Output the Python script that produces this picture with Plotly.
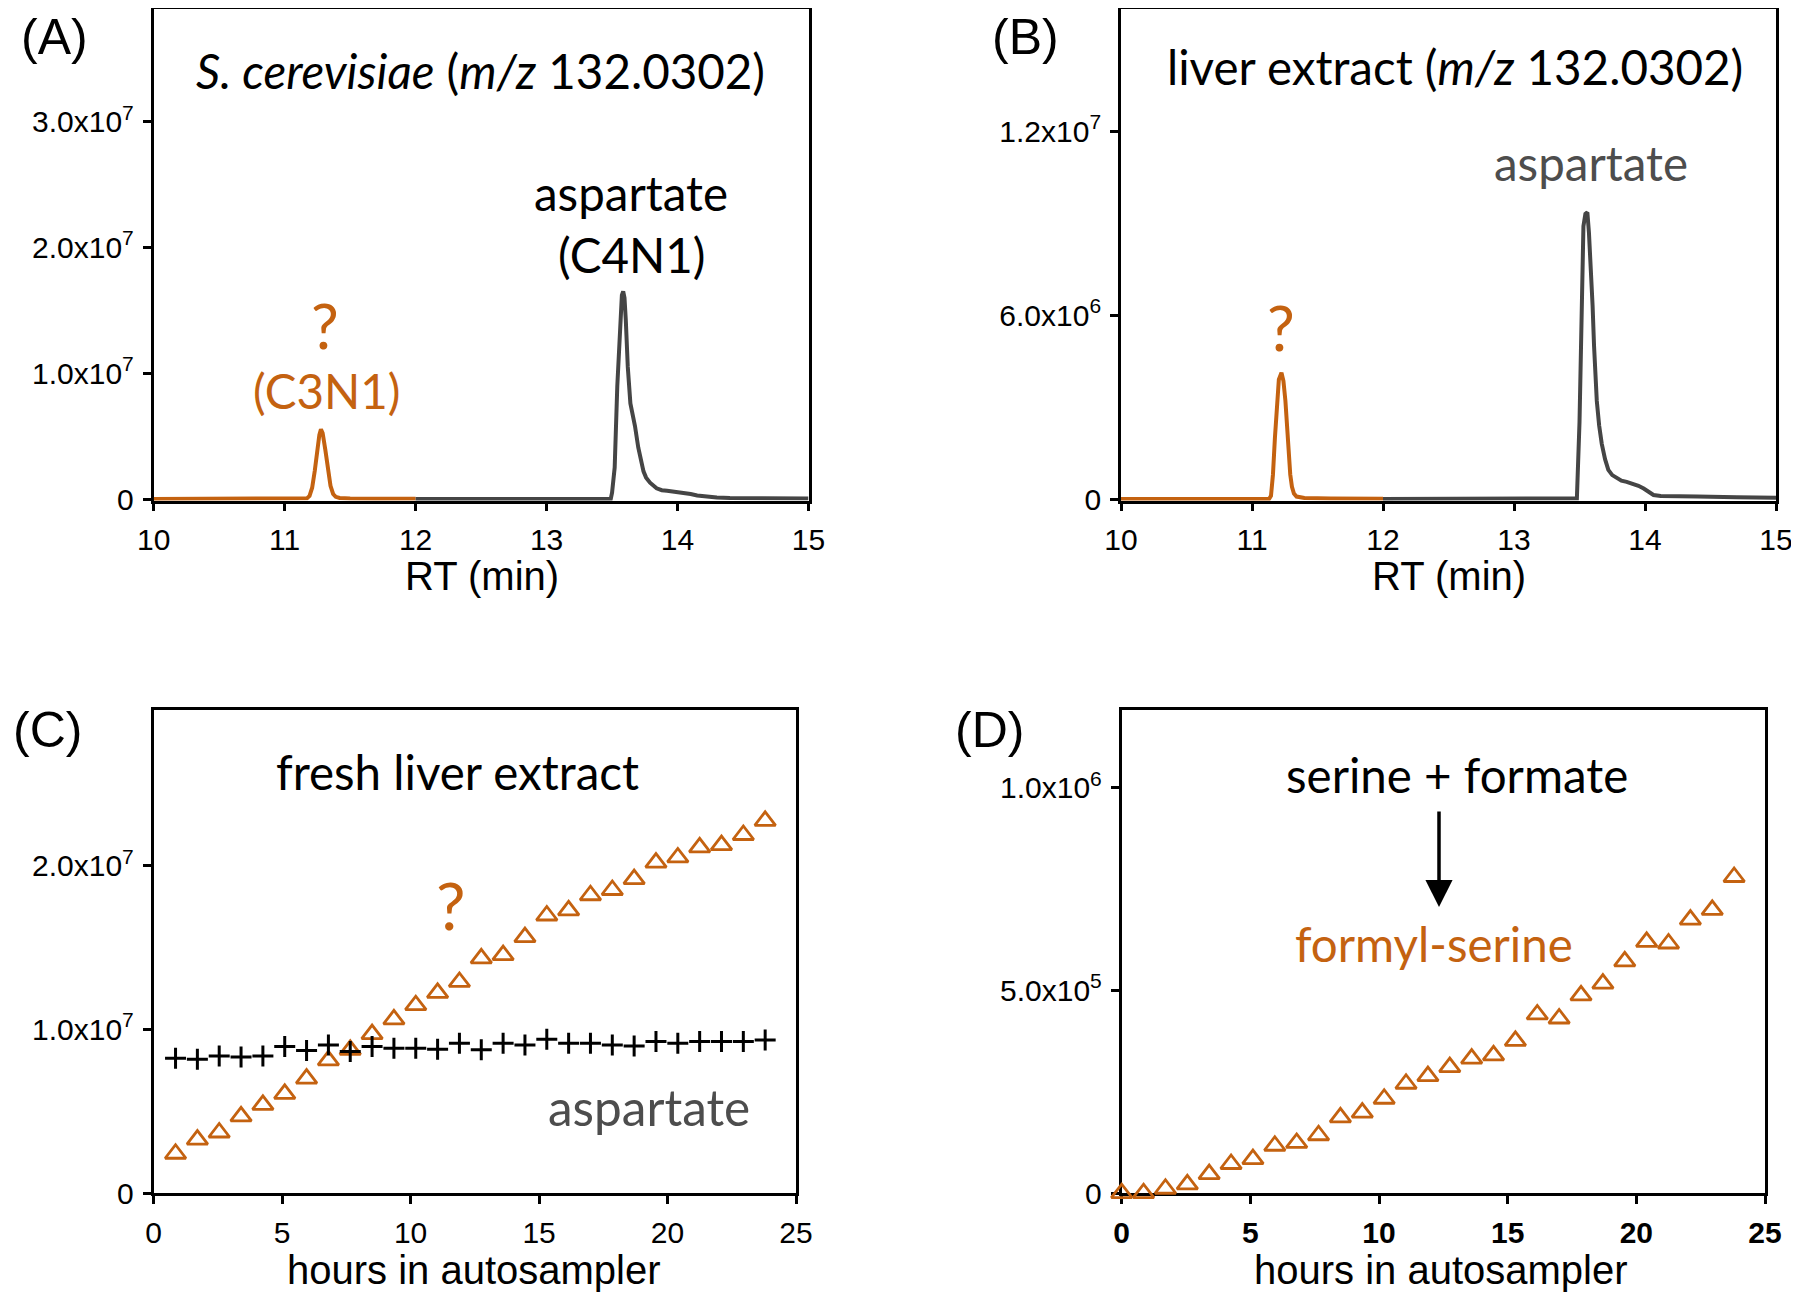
import plotly.graph_objects as go

# page is 1799x1297; the HTML body has an 8px margin, so the figure is sized to end at the page edge
PAGE_W, PAGE_H = 1799, 1297
OFF = 8
W, H = PAGE_W - OFF, PAGE_H - OFF

# ---------------- data ----------------
# Panel A: S. cerevisiae, m/z 132.0302
rt_a_unknown = [10.0, 11.0, 11.15, 11.17, 11.19, 11.21, 11.23, 11.25, 11.265, 11.277, 11.29,
                11.31, 11.33, 11.35, 11.37, 11.39, 11.42, 11.5, 11.7, 12.0]
int_a_unknown = [0, 0, 0, 0.05e6, 0.25e6, 0.9e6, 2.25e6, 4.1e6, 5.1e6, 5.55e6, 5.25e6,
                 3.95e6, 2.3e6, 1.05e6, 0.4e6, 0.17e6, 0.08e6, 0.04e6, 0.02e6, 0.01e6]
rt_a_asp = [12.0, 13.49, 13.50, 13.52, 13.54, 13.56, 13.575, 13.585, 13.595, 13.605, 13.62,
            13.64, 13.66, 13.675, 13.70, 13.72, 13.74, 13.76, 13.79, 13.84, 13.88, 13.92,
            13.96, 14.0, 14.05, 14.1, 14.15, 14.22, 14.3, 14.4, 14.6, 14.8, 15.0]
int_a_asp = [0, 0, 0.05e7, 0.25e7, 0.9e7, 1.42e7, 1.62e7, 1.65e7, 1.6e7, 1.42e7, 1.05e7,
             0.76e7, 0.66e7, 0.58e7, 0.41e7, 0.30e7, 0.22e7, 0.17e7, 0.13e7, 0.085e7, 0.07e7,
             0.065e7, 0.06e7, 0.058e7, 0.05e7, 0.04e7, 0.028e7, 0.018e7, 0.012e7, 0.008e7,
             0.005e7, 0.004e7, 0.003e7]

# Panel B: liver extract, m/z 132.0302
rt_b_unknown = [10.0, 11.0, 11.13, 11.145, 11.16, 11.175, 11.19, 11.205, 11.225, 11.24, 11.255,
                11.268, 11.28, 11.292, 11.305, 11.32, 11.34, 11.4, 11.6, 12.0]
int_b_unknown = [0, 0, 0, 0.1e6, 0.8e6, 2.0e6, 3.1e6, 3.9e6, 4.12e6, 3.85e6, 3.2e6,
                 2.3e6, 1.4e6, 0.8e6, 0.4e6, 0.18e6, 0.08e6, 0.03e6, 0.02e6, 0.01e6]
rt_b_asp = [12.0, 13.47, 13.48, 13.50, 13.51, 13.52, 13.53, 13.545, 13.56, 13.572, 13.586,
            13.60, 13.611, 13.622, 13.632, 13.65, 13.67, 13.695, 13.72, 13.75, 13.785, 13.82,
            13.86, 13.91, 13.95, 13.99, 14.03, 14.065, 14.12, 14.2, 14.4, 14.7, 15.0]
int_b_asp = [0, 0, 0.02e6, 2.5e6, 4.5e6, 7.0e6, 8.9e6, 9.3e6, 9.35e6, 8.7e6, 7.6e6,
             6.3e6, 5.0e6, 3.9e6, 3.2e6, 2.4e6, 1.8e6, 1.3e6, 0.95e6, 0.78e6, 0.67e6, 0.6e6,
             0.56e6, 0.5e6, 0.43e6, 0.34e6, 0.22e6, 0.13e6, 0.1e6, 0.09e6, 0.08e6, 0.06e6, 0.04e6]

# Panel C: fresh liver extract, signal vs hours in autosampler
hours_c = [0.85, 1.70, 2.55, 3.40, 4.25, 5.10, 5.95, 6.80, 7.65, 8.50, 9.35, 10.20, 11.05, 11.90,
           12.75, 13.60, 14.45, 15.30, 16.15, 17.00, 17.85, 18.70, 19.55, 20.40, 21.25, 22.10,
           22.95, 23.80]
c_unknown = [2.41e6, 3.28e6, 3.71e6, 4.70e6, 5.40e6, 6.07e6, 7.00e6, 8.12e6, 8.76e6, 9.72e6,
             10.62e6, 11.49e6, 12.24e6, 12.91e6, 14.35e6, 14.55e6, 15.65e6, 16.97e6, 17.29e6,
             18.21e6, 18.53e6, 19.20e6, 20.20e6, 20.52e6, 21.14e6, 21.27e6, 21.89e6, 22.76e6]
c_aspartate = [8.25e6, 8.19e6, 8.39e6, 8.33e6, 8.39e6, 8.96e6, 8.72e6, 9.06e6, 8.66e6, 8.96e6,
               8.86e6, 8.86e6, 8.80e6, 9.17e6, 8.76e6, 9.17e6, 9.06e6, 9.41e6, 9.17e6, 9.17e6,
               9.06e6, 9.00e6, 9.27e6, 9.17e6, 9.27e6, 9.27e6, 9.27e6, 9.37e6]

# Panel D: serine + formate -> formyl-serine
hours_d = [0.00, 0.85, 1.70, 2.55, 3.40, 4.25, 5.10, 5.95, 6.80, 7.65, 8.50, 9.35, 10.20, 11.05,
           11.90, 12.75, 13.60, 14.45, 15.30, 16.15, 17.00, 17.85, 18.70, 19.55, 20.40, 21.25,
           22.10, 22.95, 23.80]
d_formyl = [0, 0, 1.1e4, 2.2e4, 4.7e4, 7.2e4, 8.4e4, 1.17e5, 1.24e5, 1.43e5, 1.87e5, 1.99e5,
            2.33e5, 2.70e5, 2.89e5, 3.11e5, 3.32e5, 3.40e5, 3.76e5, 4.41e5, 4.31e5, 4.88e5,
            5.17e5, 5.72e5, 6.20e5, 6.16e5, 6.75e5, 6.99e5, 7.80e5]

# tick labels
rt_ticks = [10, 11, 12, 13, 14, 15]
hour_ticks = [0, 5, 10, 15, 20, 25]
a_yticks = [0, 1e7, 2e7, 3e7]
a_ylabels = ["0", "1.0x10<sup>7</sup>", "2.0x10<sup>7</sup>", "3.0x10<sup>7</sup>"]
b_yticks = [0, 6e6, 1.2e7]
b_ylabels = ["0", "6.0x10<sup>6</sup>", "1.2x10<sup>7</sup>"]
c_yticks = [0, 1e7, 2e7]
c_ylabels = ["0", "1.0x10<sup>7</sup>", "2.0x10<sup>7</sup>"]
d_yticks = [0, 5e5, 1e6]
d_ylabels = ["0", "5.0x10<sup>5</sup>", "1.0x10<sup>6</sup>"]

# ---------------- style ----------------
ORANGE = "#C46210"
GRAY_LINE = "#454545"
GRAY_TEXT = "#4D4D4D"
ARIAL = "Liberation Sans, Arial, sans-serif"
CAL = "Lato, Carlito, Calibri, sans-serif"
TXT = 47.5
TICK = 30


def fx(p):
    """page pixel x -> paper fraction"""
    return (p - OFF) / W


def fy(p):
    """page pixel y -> paper fraction"""
    return 1 - (p - OFF) / H


# panel boxes in page pixels: (left, right, top, bottom-of-zero, y max, pad-below-zero)
boxes = {
    "A": (153.7, 808.5, 8.5, 499.0, 3.9e7, True),
    "B": (1121.0, 1776.0, 8.5, 499.0, 1.6e7, True),
    "C": (153.7, 796.0, 710.0, 1193.2, 2.953e7, False),
    "D": (1121.7, 1765.0, 710.0, 1193.2, 1.192e6, False),
}

fig = go.Figure()

axis_common = dict(
    showline=True, linecolor="black", linewidth=2.8, mirror=True,
    ticks="outside", ticklen=8, tickwidth=2.5, tickcolor="black",
    showgrid=False, zeroline=False, layer="below traces", automargin=False,
    ticklabelstandoff=3, ticklabeloverflow="allow",
    tickfont=dict(family=ARIAL, size=TICK, color="black"),
)

layout_axes = {}
for i, (key, (l, r, t, b, top, pad)) in enumerate(boxes.items()):
    n = "" if i == 0 else str(i + 1)
    bottom_px = b + 1.5 if pad else b
    hp = bottom_px - t
    ymin = -top * 1.5 / (hp - 1.5) if pad else 0
    xa = dict(axis_common, domain=[fx(l), fx(r)], anchor="y" + n)
    ya = dict(axis_common, domain=[fy(bottom_px), fy(t)], anchor="x" + n,
              range=[ymin, top])
    if key in ("A", "B"):
        xa.update(range=[10, 15], tickvals=rt_ticks, ticktext=[str(v) for v in rt_ticks])
    else:
        xa.update(range=[0, 25], tickvals=hour_ticks, ticktext=[str(v) for v in hour_ticks])
    if key == "D":
        xa["tickfont"] = dict(family=ARIAL, size=TICK, color="black", weight="bold")
    yt = {"A": (a_yticks, a_ylabels), "B": (b_yticks, b_ylabels),
          "C": (c_yticks, c_ylabels), "D": (d_yticks, d_ylabels)}[key]
    ya.update(tickvals=yt[0], ticktext=yt[1])
    layout_axes["xaxis" + n] = xa
    layout_axes["yaxis" + n] = ya

# traces
LW = 4.0
fig.add_trace(go.Scatter(x=rt_a_unknown, y=int_a_unknown, mode="lines",
                         line=dict(color=ORANGE, width=LW), xaxis="x", yaxis="y"))
fig.add_trace(go.Scatter(x=rt_a_asp, y=int_a_asp, mode="lines",
                         line=dict(color=GRAY_LINE, width=LW), xaxis="x", yaxis="y"))
fig.add_trace(go.Scatter(x=rt_b_unknown, y=int_b_unknown, mode="lines",
                         line=dict(color=ORANGE, width=LW), xaxis="x2", yaxis="y2"))
fig.add_trace(go.Scatter(x=rt_b_asp, y=int_b_asp, mode="lines",
                         line=dict(color=GRAY_LINE, width=LW), xaxis="x2", yaxis="y2"))
fig.add_trace(go.Scatter(x=hours_c, y=c_unknown, mode="markers", cliponaxis=False,
                         marker=dict(symbol="triangle-up-open", size=18, color=ORANGE,
                                     line=dict(color=ORANGE, width=2.8)),
                         xaxis="x3", yaxis="y3"))
fig.add_trace(go.Scatter(x=hours_c, y=c_aspartate, mode="markers", cliponaxis=False,
                         marker=dict(symbol="cross-thin", size=15, color="black",
                                     line=dict(color="black", width=3)),
                         xaxis="x3", yaxis="y3"))
fig.add_trace(go.Scatter(x=hours_d, y=d_formyl, mode="markers", cliponaxis=False,
                         marker=dict(symbol="triangle-up-open", size=18, color=ORANGE,
                                     line=dict(color=ORANGE, width=2.8)),
                         xaxis="x4", yaxis="y4"))

# annotations (page-pixel placed text)
texts = [
    ("(A)", 54, 37, ARIAL, 50, "black"),
    ("<i>S. cerevisiae</i> (<i>m/z</i> 132.0302)", 480, 71, CAL, TXT, "black"),
    ("aspartate", 631, 193, CAL, TXT, "black"),
    ("(C4N1)", 631, 255, CAL, TXT, "black"),
    ("?", 325, 325, CAL, 62, ORANGE),
    ("(C3N1)", 326, 390, CAL, TXT, ORANGE),
    ("(B)", 1025, 37, ARIAL, 50, "black"),
    ("liver extract (<i>m/z</i> 132.0302)", 1455, 67, CAL, TXT, "black"),
    ("aspartate", 1591, 163, CAL, TXT, GRAY_TEXT),
    ("?", 1281, 327, CAL, 62, ORANGE),
    ("(C)", 47, 730, ARIAL, 50, "black"),
    ("fresh liver extract", 457, 771, CAL, TXT, "black"),
    ("?", 451, 904, CAL, 66, ORANGE),
    ("aspartate", 649, 1107, CAL, TXT + 2, GRAY_TEXT),
    ("(D)", 989, 730, ARIAL, 50, "black"),
    ("serine + formate", 1457, 774, CAL, TXT, "black"),
    ("formyl-serine", 1434, 943, CAL, TXT, ORANGE),
    ("RT (min)", 482, 576, ARIAL, 40, "black"),
    ("RT (min)", 1449, 576, ARIAL, 40, "black"),
    ("hours in autosampler", 474, 1270, ARIAL, 40, "black"),
    ("hours in autosampler", 1441, 1270, ARIAL, 40, "black"),
]
annotations = []
for text, x, y, fam, size, col in texts:
    annotations.append(dict(text=text, x=fx(x), y=fy(y), xref="paper", yref="paper",
                            xanchor="center", yanchor="middle", showarrow=False,
                            font=dict(family=fam, size=size, color=col)))
# arrow serine + formate -> formyl-serine
annotations.append(dict(text="", x=fx(1439), y=fy(907), xref="paper", yref="paper",
                        ax=0, ay=-97, showarrow=True, arrowhead=2, arrowsize=1.55,
                        arrowwidth=3.5, arrowcolor="black", standoff=0))

fig.update_layout(
    template="none",
    width=W, height=H, margin=dict(l=0, r=0, t=0, b=0, autoexpand=False),
    paper_bgcolor="white", plot_bgcolor="white", showlegend=False,
    annotations=annotations, **layout_axes,
)

fig.write_html("out.html")
